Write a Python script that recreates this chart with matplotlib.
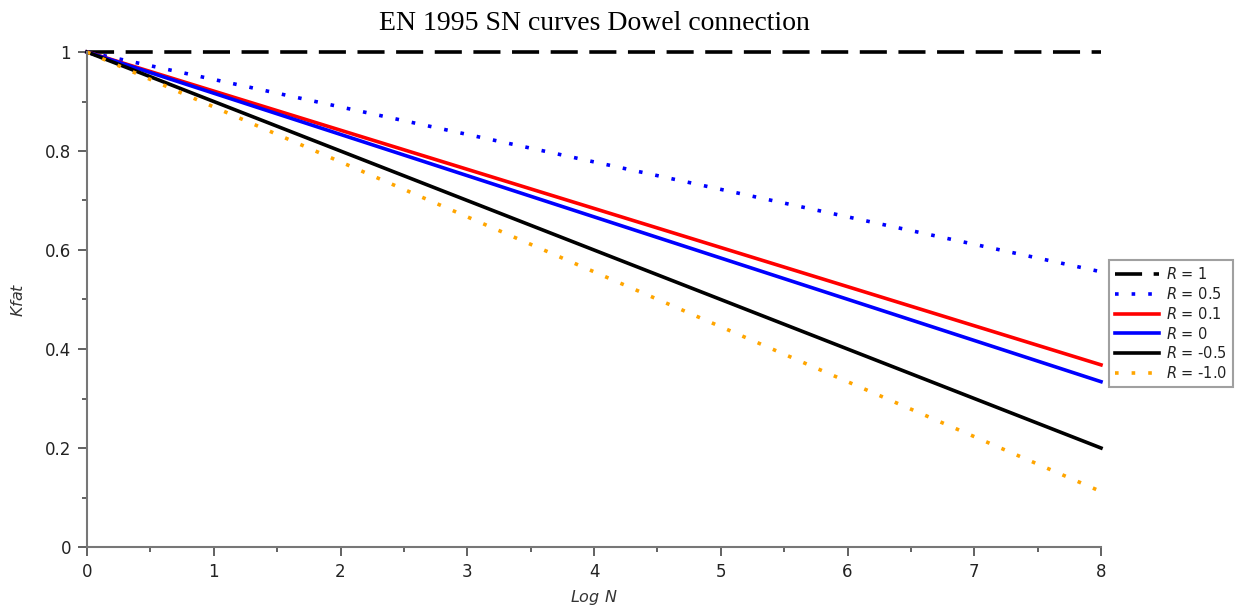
import matplotlib
matplotlib.use("Agg")
import matplotlib.pyplot as plt
from matplotlib.ticker import MultipleLocator

# Data: straight lines from log N = 0 to 8
log_n = [0, 8]
labels = ["$R$ = 1", "$R$ = 0.5", "$R$ = 0.1", "$R$ = 0", "$R$ = -0.5", "$R$ = -1.0"]
kfat_r1 = [1.0, 1.0]
kfat_r05 = [1.0, 0.556]
kfat_r01 = [1.0, 0.368]
kfat_r0 = [1.0, 0.334]
kfat_rm05 = [1.0, 0.200]
kfat_rm10 = [1.0, 0.112]

series = [kfat_r1, kfat_r05, kfat_r01, kfat_r0, kfat_rm05, kfat_rm10]
colors = ["black", "#0000FF", "#FF0000", "#0000FF", "black", "#FFA500"]
styles = [(0, (7.5, 3.2)), (0, (1, 3.6)), "-", "-", "-", (0, (1, 3.6))]

fig = plt.figure(figsize=(12.42, 6.07), dpi=100)
ax = fig.add_axes([87/1242, 60/607, (1101-87)/1242, (547-52)/607])

for y, c, ls, lab in zip(series, colors, styles, labels):
    ax.plot(log_n, y, color=c, linestyle=ls, linewidth=2.6, label=lab, clip_on=False)

ax.set_xlim(0, 8)
ax.set_ylim(0, 1)
for s in ["top", "right"]:
    ax.spines[s].set_visible(False)
for s in ["left", "bottom"]:
    ax.spines[s].set_color("#777777")
    ax.spines[s].set_linewidth(1.5)

ax.xaxis.set_major_locator(MultipleLocator(1))
ax.xaxis.set_minor_locator(MultipleLocator(0.5))
ax.yaxis.set_minor_locator(MultipleLocator(0.1))
ax.set_yticks([0, 0.2, 0.4, 0.6, 0.8, 1.0])
ax.set_yticklabels(["0", "0.2", "0.4", "0.6", "0.8", "1"])
ax.tick_params(which="major", length=6.5, width=1.3, color="#555555",
               labelsize=12, labelcolor="#222222", pad=5)
ax.tick_params(which="minor", length=3.5, width=1.3, color="#555555")

ax.set_xlabel("$Log\\ N$", fontsize=11.5, color="#333333")
ax.set_ylabel("$Kfat$", fontsize=11.5, color="#333333")
ax.xaxis.set_label_coords(0.5, -0.083)
ax.yaxis.set_label_coords(-0.06, 0.5)

ax.set_title("EN 1995 SN curves Dowel connection", fontsize=20,
             family="Liberation Serif", pad=16)

leg = ax.legend(loc="upper left", bbox_to_anchor=(1.008, 0.58),
                fontsize=10.5, frameon=True, fancybox=False, handlelength=3.0,
                handletextpad=0.5, borderpad=0.4, labelspacing=0.27,
                borderaxespad=0)
leg.get_frame().set_edgecolor("#888888")
leg.get_frame().set_linewidth(1.5)
for t in leg.get_texts():
    t.set_color("#222222")

fig.savefig("out.png", dpi=100)
